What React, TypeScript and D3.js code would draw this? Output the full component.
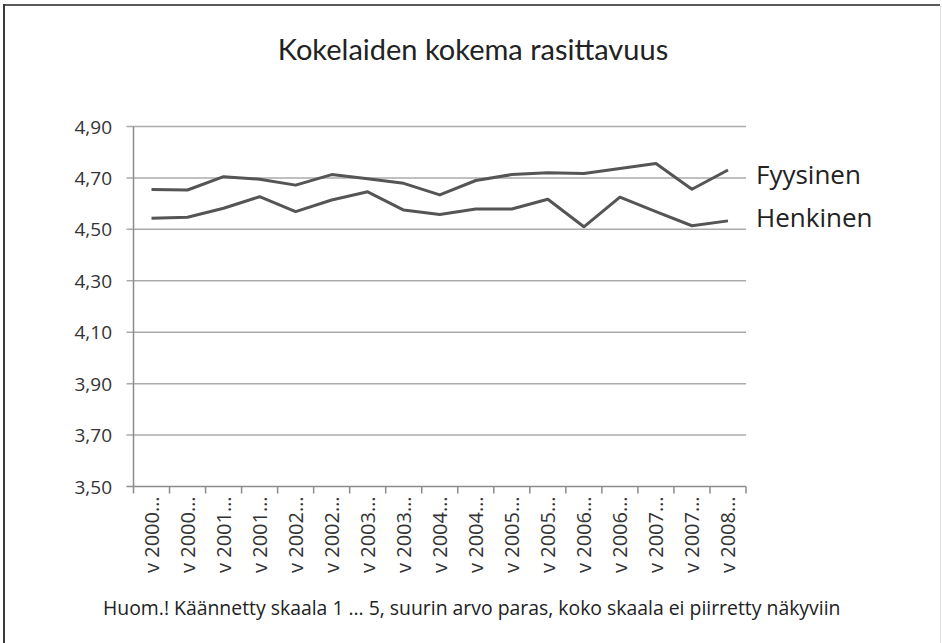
import React from "react";
import { scaleLinear, scaleBand, line } from "d3";

const WIDTH = 942;
const HEIGHT = 643;
const PLOT = { left: 133.5, right: 746, top: 126.5, bottom: 486.5 };

const TITLE = "Kokelaiden kokema rasittavuus";
const FOOTNOTE =
  "Huom.! Käännetty skaala 1 … 5, suurin arvo paras, koko skaala ei piirretty näkyviin";

const categories = [
  "v 2000…", "v 2000…", "v 2001…", "v 2001…", "v 2002…", "v 2002…",
  "v 2003…", "v 2003…", "v 2004…", "v 2004…", "v 2005…", "v 2005…",
  "v 2006…", "v 2006…", "v 2007…", "v 2007…", "v 2008…",
];

const fyysinen = [
  4.655, 4.653, 4.705, 4.695, 4.672, 4.713, 4.697, 4.679, 4.634,
  4.69, 4.713, 4.72, 4.717, 4.737, 4.756, 4.656, 4.731,
];

const henkinen = [
  4.543, 4.547, 4.582, 4.627, 4.569, 4.614, 4.646, 4.575, 4.558,
  4.579, 4.579, 4.617, 4.51, 4.625, 4.569, 4.514, 4.533,
];

const yTicks = [3.5, 3.7, 3.9, 4.1, 4.3, 4.5, 4.7, 4.9];

const series = [
  { name: "Fyysinen", values: fyysinen },
  { name: "Henkinen", values: henkinen },
];

const fmt = (v: number) => v.toFixed(2).replace(".", ",");

export default function App() {
  const idx = categories.map((_, i) => i);
  const x = scaleBand<number>().domain(idx).range([PLOT.left, PLOT.right]);
  const y = scaleLinear().domain([3.5, 4.9]).range([PLOT.bottom, PLOT.top]);
  const cx = (i: number) => (x(i) ?? 0) + x.bandwidth() / 2;

  const path = line<number>()
    .x((_, i) => cx(i))
    .y((d) => y(d));

  const font = "'Open Sans', sans-serif";

  return (
    <svg
      width={WIDTH}
      height={HEIGHT}
      style={{ position: "absolute", left: 0, top: 0, background: "#fff" }}
    >
      {/* frame */}
      <line x1={3} y1={5} x2={940} y2={5} stroke="#5a5a5a" strokeWidth={2} />
      <line x1={4} y1={4} x2={4} y2={643} stroke="#3a3a3a" strokeWidth={2} />
      <line x1={940.5} y1={5} x2={940.5} y2={643} stroke="#e4e4e4" strokeWidth={1} />

      <text
        x={473}
        y={60}
        textAnchor="middle"
        fontFamily="Lato, sans-serif"
        fontSize={29}
        fill="#222"
      >
        {TITLE}
      </text>

      {/* gridlines + y labels */}
      {yTicks.map((t) => (
        <g key={t}>
          <line
            x1={PLOT.left - 7}
            x2={PLOT.right}
            y1={y(t)}
            y2={y(t)}
            stroke={t === 3.5 ? "#8c8c8c" : "#ababab"}
            strokeWidth={1.5}
          />
          <text
            x={112}
            y={y(t) + 7}
            textAnchor="end"
            fontFamily={font}
            fontSize={19}
            fill="#333"
          >
            {fmt(t)}
          </text>
        </g>
      ))}

      {/* y axis */}
      <line
        x1={PLOT.left}
        x2={PLOT.left}
        y1={PLOT.top}
        y2={PLOT.bottom + 7}
        stroke="#8c8c8c"
        strokeWidth={1.5}
      />

      {/* x ticks */}
      {idx.map((i) => (
        <line
          key={i}
          x1={(x(i) ?? 0) + x.bandwidth()}
          x2={(x(i) ?? 0) + x.bandwidth()}
          y1={PLOT.bottom}
          y2={PLOT.bottom + 7}
          stroke="#8c8c8c"
          strokeWidth={1.5}
        />
      ))}

      {/* x labels */}
      {categories.map((c, i) => (
        <text
          key={i}
          transform={`translate(${cx(i) + 7},${PLOT.bottom + 10}) rotate(-90)`}
          textAnchor="end"
          fontFamily={font}
          fontSize={20}
          fill="#333"
        >
          {c}
        </text>
      ))}

      {/* series */}
      {series.map((s) => (
        <path
          key={s.name}
          d={path(s.values) || ""}
          fill="none"
          stroke="#555"
          strokeWidth={3}
          strokeLinejoin="round"
        />
      ))}

      {/* series labels */}
      <text x={756} y={184} fontFamily={font} fontSize={26} fill="#222">
        {series[0].name}
      </text>
      <text x={756} y={227} fontFamily={font} fontSize={26} fill="#222">
        {series[1].name}
      </text>

      <text x={103} y={615} fontFamily={font} fontSize={19.4} fill="#222">
        {FOOTNOTE}
      </text>
    </svg>
  );
}
